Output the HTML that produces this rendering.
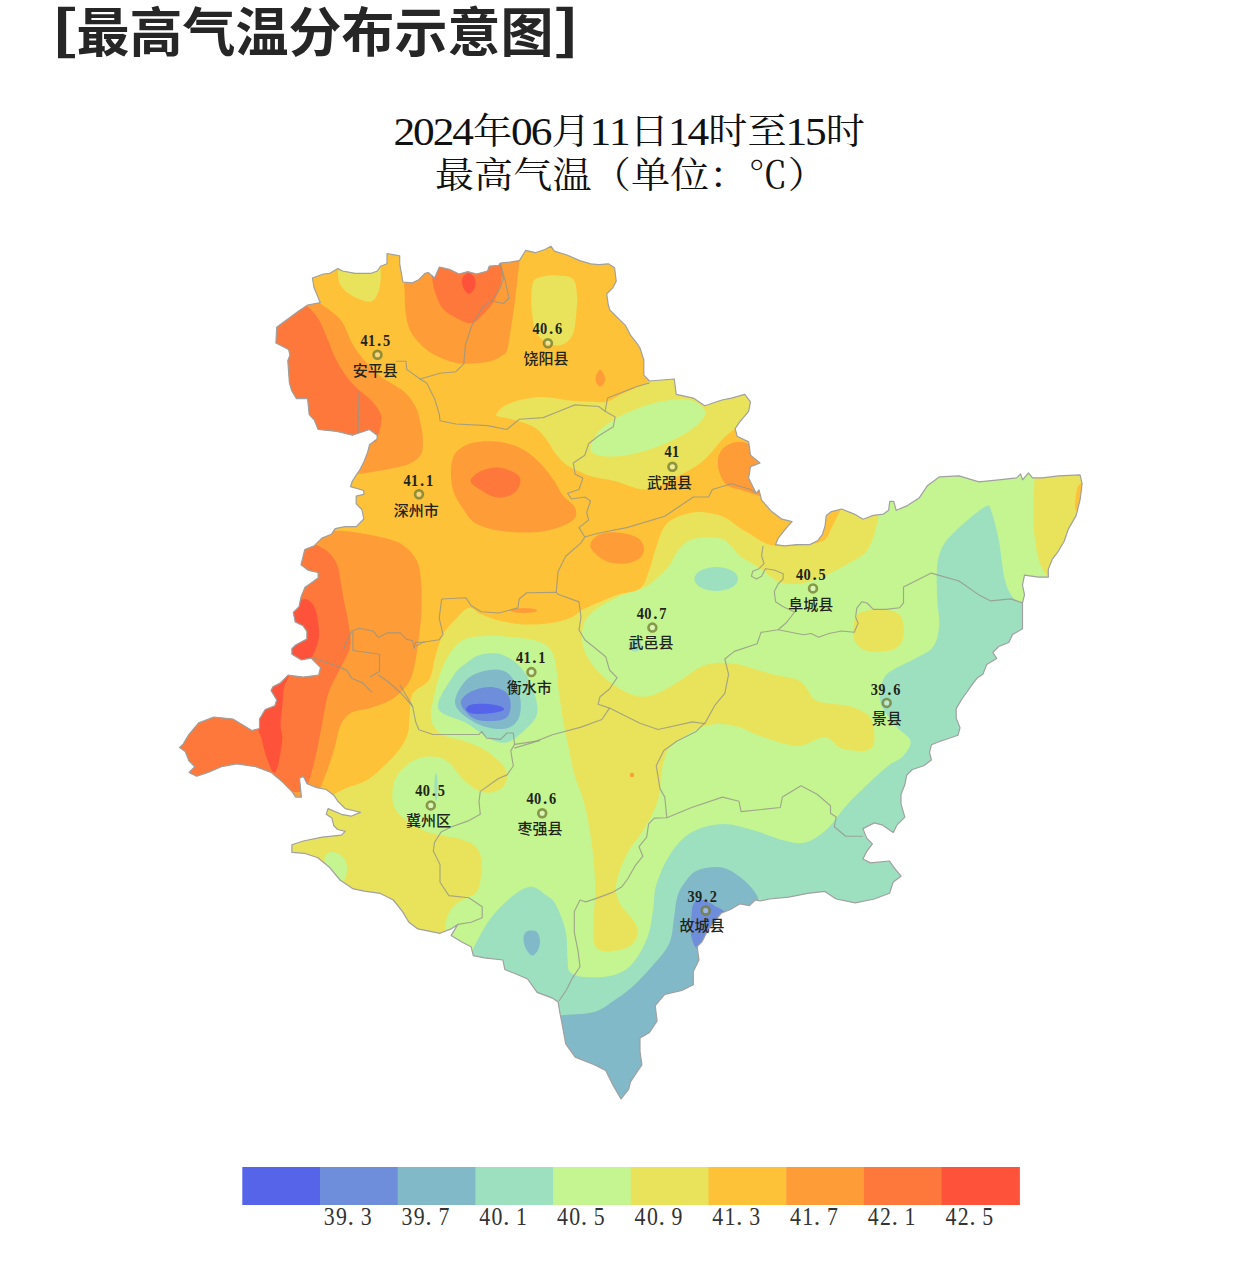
<!DOCTYPE html>
<html lang="zh"><head><meta charset="utf-8"><title>最高气温分布示意图</title>
<style>
html,body{margin:0;padding:0;background:#fff;}
body{width:1260px;height:1279px;overflow:hidden;position:relative;}
svg{position:absolute;left:0;top:0;display:block}
.t{font-family:"Noto Sans CJK SC","Liberation Sans",sans-serif;font-weight:bold;fill:#262626}
.s{font-family:"Liberation Serif","Noto Serif CJK SC",serif;fill:#111}
.v{font-family:"Liberation Serif","Noto Serif CJK SC",serif;fill:#1f251a;font-size:17px;font-weight:bold}
.n{font-family:"Liberation Sans","Noto Sans CJK SC",sans-serif;fill:#1f251a;font-size:15px;font-weight:500}
.lg{font-family:"Liberation Serif","Noto Serif CJK SC",serif;fill:#333}
</style></head><body>
<svg width="1260" height="1279" viewBox="0 0 1260 1279">
<text class="t" font-size="53"><tspan x="50.6" y="49" textLength="28.05" lengthAdjust="spacingAndGlyphs">[</tspan><tspan x="76.5" y="51.5">最高气温分布示意图</tspan><tspan x="553" y="49" textLength="27.05" lengthAdjust="spacingAndGlyphs">]</tspan></text>
<text class="s" y="145"><tspan x="393.5" y="145" font-size="39.4" textLength="21.7" lengthAdjust="spacingAndGlyphs">2</tspan><tspan x="413.1" y="145" font-size="39.4" textLength="21.7" lengthAdjust="spacingAndGlyphs">0</tspan><tspan x="432.7" y="145" font-size="39.4" textLength="21.7" lengthAdjust="spacingAndGlyphs">2</tspan><tspan x="452.3" y="145" font-size="39.4" textLength="21.7" lengthAdjust="spacingAndGlyphs">4</tspan><tspan x="473" y="143.5" font-size="36.5" textLength="39.1" lengthAdjust="spacingAndGlyphs">年</tspan><tspan x="511.1" y="145" font-size="39.4" textLength="21.7" lengthAdjust="spacingAndGlyphs">0</tspan><tspan x="530.7" y="145" font-size="39.4" textLength="21.7" lengthAdjust="spacingAndGlyphs">6</tspan><tspan x="551.4" y="143.5" font-size="36.5" textLength="39.1" lengthAdjust="spacingAndGlyphs">月</tspan><tspan x="589.5" y="145" font-size="39.4" textLength="21.7" lengthAdjust="spacingAndGlyphs">1</tspan><tspan x="609.1" y="145" font-size="39.4" textLength="21.7" lengthAdjust="spacingAndGlyphs">1</tspan><tspan x="629.8" y="143.5" font-size="36.5" textLength="39.1" lengthAdjust="spacingAndGlyphs">日</tspan><tspan x="667.9" y="145" font-size="39.4" textLength="21.7" lengthAdjust="spacingAndGlyphs">1</tspan><tspan x="687.5" y="145" font-size="39.4" textLength="21.7" lengthAdjust="spacingAndGlyphs">4</tspan><tspan x="708.2" y="143.5" font-size="36.5" textLength="39.1" lengthAdjust="spacingAndGlyphs">时</tspan><tspan x="747.4" y="143.5" font-size="36.5" textLength="39.1" lengthAdjust="spacingAndGlyphs">至</tspan><tspan x="785.5" y="145" font-size="39.4" textLength="21.7" lengthAdjust="spacingAndGlyphs">1</tspan><tspan x="805.1" y="145" font-size="39.4" textLength="21.7" lengthAdjust="spacingAndGlyphs">5</tspan><tspan x="825.8" y="143.5" font-size="36.5" textLength="39.1" lengthAdjust="spacingAndGlyphs">时</tspan></text>
<text class="s" y="189"><tspan x="434.9" y="187.5" font-size="36.5" textLength="39.1" lengthAdjust="spacingAndGlyphs">最</tspan><tspan x="474.1" y="187.5" font-size="36.5" textLength="39.1" lengthAdjust="spacingAndGlyphs">高</tspan><tspan x="513.3" y="187.5" font-size="36.5" textLength="39.1" lengthAdjust="spacingAndGlyphs">气</tspan><tspan x="552.5" y="187.5" font-size="36.5" textLength="39.1" lengthAdjust="spacingAndGlyphs">温</tspan><tspan x="591.7" y="187.5" font-size="36.5" textLength="39.1" lengthAdjust="spacingAndGlyphs">（</tspan><tspan x="630.9" y="187.5" font-size="36.5" textLength="39.1" lengthAdjust="spacingAndGlyphs">单</tspan><tspan x="670.1" y="187.5" font-size="36.5" textLength="39.1" lengthAdjust="spacingAndGlyphs">位</tspan><tspan x="709.3" y="187.5" font-size="36.5" textLength="39.1" lengthAdjust="spacingAndGlyphs">：</tspan><tspan x="748.5" y="187.5" font-size="36.5" textLength="39.1" lengthAdjust="spacingAndGlyphs">℃</tspan><tspan x="787.7" y="187.5" font-size="36.5" textLength="39.1" lengthAdjust="spacingAndGlyphs">）</tspan></text>
<defs><clipPath id="cl"><path d="M276.7,327.3L298,311.4L307.6,305L320.3,302.7L314,287.6L312.4,278L323.5,274L329.8,273.3L337.8,268.6L342.5,271L355.2,273.3L371.1,273.3L377.5,271L380.6,266.2L387,263.8L387,253.5L399.7,255.9L399.7,263.8L402,276.5L402.9,282L412.4,282.9L418.7,279.7L425,273.3L428.3,272.5L434.6,278L439.4,267L449.5,269.4L459,274L467.8,271.7L476.5,274L487.6,271L489.2,266.2L498.7,265.4L500.3,263L509.8,262.2L519.4,260.6L525.7,250.3L535.2,252.7L544.8,249.5L551.1,246.3L554.3,251.1L567,255L579.7,260.6L590.8,263.8L598.7,264.6L608.3,263.8L614.6,267.8L616.2,281.3L613,287.6L606.7,294L608.3,305L609.8,309.8L617.8,317.8L625.7,325.7L630.5,335.2L636.8,343.2L640,348L643.8,360L643.8,375.2L649.5,381L674.3,379L676.2,394.3L693.3,398.1L704.8,405.7L721.9,400L731.4,398.1L744.8,394.3L750.5,401.9L748.6,411.4L739,422.9L735.2,428.6L737.1,436.2L748.6,441.9L750.5,455.2L760,462.9L750.5,466.7L748.6,478.1L752.4,485.7L756.2,493.3L759,490L761.6,500.2L771.7,511.6L781.9,519.2L792.1,521.7L788.3,525.6L783.2,531.9L778.1,538.3L775.6,544.6L784.4,545.9L797.1,544.6L809.8,544.6L817.5,540.8L822.5,534.4L825.1,525.6L826.3,515.4L831.4,511.6L841.6,509L854.3,514.1L863.2,519.2L873.3,515.4L883.5,514.1L888.6,510.3L889.8,501.4L893.7,501.4L896.2,510.3L907.5,505.6L919.4,497.7L927.3,485.8L939.2,476.9L959,475.9L978.9,481.8L998.7,479.8L1016.6,477.9L1020.6,473.9L1022.5,479.8L1028.5,472.9L1032.5,477.9L1042.4,477.9L1058.3,475.9L1080.1,474.9L1082.1,483.8L1080.1,499.7L1076.1,515.6L1068.2,529.4L1064.2,541.3L1058.3,551.3L1052.3,559.2L1048.3,569.1L1048.3,577.1L1038.4,577.1L1024.5,575.1L1022.5,585L1024.5,594.9L1022.5,602.9L1022.5,618.7L1022.5,628.7L1012.6,634.6L1008.7,642.5L998.7,646.5L992.8,652.5L996.7,658.4L986.8,664.4L982.9,674.3L976.9,678.3L971,686.2L967,692L961.9,699L956.2,708.6L956.2,718.1L960,727.6L958.1,735.2L941,741L931.4,744.8L929.5,752.4L931.4,760L923.8,765.7L912.4,769.5L906.7,775.2L904.8,784.8L901,794.3L901,803.8L904.8,817.1L897.1,824.8L893.3,832.4L881.9,824.8L874.3,822.9L862.9,828.6L866.7,838.1L872.4,843.8L866.7,851.4L862.9,859L870.5,862.9L889.5,861L893.3,866.7L901,876.2L893.3,881.9L889.5,893.3L874.3,899L855.2,902.9L836.2,899L824.8,891.4L807.6,893.3L788.6,897.1L769.5,899L760,901L755.2,900L749.5,905.7L740,903.8L730.5,909.5L721,913.3L715.2,921L707.6,930.5L701.9,941.9L697.1,946.7L699,960L693.3,971.4L693.3,984.8L681.9,990.5L664.8,994.3L655.2,1005.7L657.1,1021L649.5,1032.4L640,1038.1L640,1051.4L641.9,1064.8L638.1,1070.5L630.5,1081.9L628.6,1089.5L621,1099L613.3,1085.7L605.7,1070.5L594.3,1064.8L575.2,1057.1L565.7,1043.8L561.9,1022.9L560,1013.3L558.1,1001.9L552.4,998.1L537.1,992.4L527.6,979L514.3,973.3L504.8,969.5L502.9,960L484.4,957.8L473.3,955.6L471.1,946.7L462.2,942.2L451.1,935.6L457.8,924.4L451.1,928.9L440,933.3L417.8,928.9L408.9,922.2L402.2,911.1L393.3,900L380,893.3L364.4,891.1L353.3,888.9L340,880L328.9,866.7L317.8,857.8L304.4,853.3L291.9,852.4L291.9,844.8L303.3,841L322.4,837.1L341.4,835.2L345.2,831.4L337.6,829.5L333.8,825.7L331.9,818.1L326.2,814.3L328.1,808.6L341.4,814.3L351,816.2L360.5,812.4L352.9,810.5L345.2,808.6L337.6,801L333.8,795.2L326.2,789.5L316.7,787.6L307.1,783.8L303.3,776.2L299.5,778.1L301.4,797.1L295.7,797.1L291.9,791.4L282.4,781.9L271,772.4L255.7,766.7L236.7,763.8L221.4,766.7L208.1,772.4L196.7,776.2L189,772.4L194.8,766.7L189,761L185.2,751.4L179.5,747.6L183.3,743.8L189,734.3L198.6,722.9L213.8,717.1L232.9,719L242.4,724.8L251.9,730.5L259.5,728.6L259.5,719L265.2,709.5L274.8,705.7L276.7,700L271,690.5L272.9,686.7L280.5,682.9L288.1,675.2L303.3,677.1L318.6,675.2L320.5,667.6L311,658.1L301.4,660L291.9,654.3L291.9,648.6L296,644.8L306.9,639L306.9,631.4L302.9,625.7L295.2,621.9L293.3,612.4L299,606.7L301,597.1L304.8,587.6L318.1,578.1L318.1,572.4L308.6,570.5L301,564.8L304.8,549.5L314.3,545.7L321.9,538.1L331.4,534.3L335.2,528.6L344.8,526.7L356.2,526.7L363.8,519L361.9,509.5L356.2,503.8L356.2,496.2L363.8,494.3L363.8,490.5L350.5,486.7L352.4,481L356.2,475.2L360,469.5L363.8,461.9L367.6,452.4L369.5,444.8L377.1,439L377.1,435.2L369.5,429.5L352.4,435.2L337.1,431.4L318.1,429.5L314.3,420L309.2,414.6L307.6,398.7L296.5,398.7L291.7,390.8L289.4,382.9L287.8,360.6L290,355L288.6,349.5L275.9,343Z"/></clipPath></defs>
<g clip-path="url(#cl)">
<path d="M276.7,327.3L298,311.4L307.6,305L320.3,302.7L314,287.6L312.4,278L323.5,274L329.8,273.3L337.8,268.6L342.5,271L355.2,273.3L371.1,273.3L377.5,271L380.6,266.2L387,263.8L387,253.5L399.7,255.9L399.7,263.8L402,276.5L402.9,282L412.4,282.9L418.7,279.7L425,273.3L428.3,272.5L434.6,278L439.4,267L449.5,269.4L459,274L467.8,271.7L476.5,274L487.6,271L489.2,266.2L498.7,265.4L500.3,263L509.8,262.2L519.4,260.6L525.7,250.3L535.2,252.7L544.8,249.5L551.1,246.3L554.3,251.1L567,255L579.7,260.6L590.8,263.8L598.7,264.6L608.3,263.8L614.6,267.8L616.2,281.3L613,287.6L606.7,294L608.3,305L609.8,309.8L617.8,317.8L625.7,325.7L630.5,335.2L636.8,343.2L640,348L643.8,360L643.8,375.2L649.5,381L674.3,379L676.2,394.3L693.3,398.1L704.8,405.7L721.9,400L731.4,398.1L744.8,394.3L750.5,401.9L748.6,411.4L739,422.9L735.2,428.6L737.1,436.2L748.6,441.9L750.5,455.2L760,462.9L750.5,466.7L748.6,478.1L752.4,485.7L756.2,493.3L759,490L761.6,500.2L771.7,511.6L781.9,519.2L792.1,521.7L788.3,525.6L783.2,531.9L778.1,538.3L775.6,544.6L784.4,545.9L797.1,544.6L809.8,544.6L817.5,540.8L822.5,534.4L825.1,525.6L826.3,515.4L831.4,511.6L841.6,509L854.3,514.1L863.2,519.2L873.3,515.4L883.5,514.1L888.6,510.3L889.8,501.4L893.7,501.4L896.2,510.3L907.5,505.6L919.4,497.7L927.3,485.8L939.2,476.9L959,475.9L978.9,481.8L998.7,479.8L1016.6,477.9L1020.6,473.9L1022.5,479.8L1028.5,472.9L1032.5,477.9L1042.4,477.9L1058.3,475.9L1080.1,474.9L1082.1,483.8L1080.1,499.7L1076.1,515.6L1068.2,529.4L1064.2,541.3L1058.3,551.3L1052.3,559.2L1048.3,569.1L1048.3,577.1L1038.4,577.1L1024.5,575.1L1022.5,585L1024.5,594.9L1022.5,602.9L1022.5,618.7L1022.5,628.7L1012.6,634.6L1008.7,642.5L998.7,646.5L992.8,652.5L996.7,658.4L986.8,664.4L982.9,674.3L976.9,678.3L971,686.2L967,692L961.9,699L956.2,708.6L956.2,718.1L960,727.6L958.1,735.2L941,741L931.4,744.8L929.5,752.4L931.4,760L923.8,765.7L912.4,769.5L906.7,775.2L904.8,784.8L901,794.3L901,803.8L904.8,817.1L897.1,824.8L893.3,832.4L881.9,824.8L874.3,822.9L862.9,828.6L866.7,838.1L872.4,843.8L866.7,851.4L862.9,859L870.5,862.9L889.5,861L893.3,866.7L901,876.2L893.3,881.9L889.5,893.3L874.3,899L855.2,902.9L836.2,899L824.8,891.4L807.6,893.3L788.6,897.1L769.5,899L760,901L755.2,900L749.5,905.7L740,903.8L730.5,909.5L721,913.3L715.2,921L707.6,930.5L701.9,941.9L697.1,946.7L699,960L693.3,971.4L693.3,984.8L681.9,990.5L664.8,994.3L655.2,1005.7L657.1,1021L649.5,1032.4L640,1038.1L640,1051.4L641.9,1064.8L638.1,1070.5L630.5,1081.9L628.6,1089.5L621,1099L613.3,1085.7L605.7,1070.5L594.3,1064.8L575.2,1057.1L565.7,1043.8L561.9,1022.9L560,1013.3L558.1,1001.9L552.4,998.1L537.1,992.4L527.6,979L514.3,973.3L504.8,969.5L502.9,960L484.4,957.8L473.3,955.6L471.1,946.7L462.2,942.2L451.1,935.6L457.8,924.4L451.1,928.9L440,933.3L417.8,928.9L408.9,922.2L402.2,911.1L393.3,900L380,893.3L364.4,891.1L353.3,888.9L340,880L328.9,866.7L317.8,857.8L304.4,853.3L291.9,852.4L291.9,844.8L303.3,841L322.4,837.1L341.4,835.2L345.2,831.4L337.6,829.5L333.8,825.7L331.9,818.1L326.2,814.3L328.1,808.6L341.4,814.3L351,816.2L360.5,812.4L352.9,810.5L345.2,808.6L337.6,801L333.8,795.2L326.2,789.5L316.7,787.6L307.1,783.8L303.3,776.2L299.5,778.1L301.4,797.1L295.7,797.1L291.9,791.4L282.4,781.9L271,772.4L255.7,766.7L236.7,763.8L221.4,766.7L208.1,772.4L196.7,776.2L189,772.4L194.8,766.7L189,761L185.2,751.4L179.5,747.6L183.3,743.8L189,734.3L198.6,722.9L213.8,717.1L232.9,719L242.4,724.8L251.9,730.5L259.5,728.6L259.5,719L265.2,709.5L274.8,705.7L276.7,700L271,690.5L272.9,686.7L280.5,682.9L288.1,675.2L303.3,677.1L318.6,675.2L320.5,667.6L311,658.1L301.4,660L291.9,654.3L291.9,648.6L296,644.8L306.9,639L306.9,631.4L302.9,625.7L295.2,621.9L293.3,612.4L299,606.7L301,597.1L304.8,587.6L318.1,578.1L318.1,572.4L308.6,570.5L301,564.8L304.8,549.5L314.3,545.7L321.9,538.1L331.4,534.3L335.2,528.6L344.8,526.7L356.2,526.7L363.8,519L361.9,509.5L356.2,503.8L356.2,496.2L363.8,494.3L363.8,490.5L350.5,486.7L352.4,481L356.2,475.2L360,469.5L363.8,461.9L367.6,452.4L369.5,444.8L377.1,439L377.1,435.2L369.5,429.5L352.4,435.2L337.1,431.4L318.1,429.5L314.3,420L309.2,414.6L307.6,398.7L296.5,398.7L291.7,390.8L289.4,382.9L287.8,360.6L290,355L288.6,349.5L275.9,343Z" fill="#c5f591"/>
<path d="M880,470C879.7,477.4 879.1,504.4 878.4,514.1C877.7,523.8 876.9,523.7 875.9,528.1C874.9,532.5 874,536.6 872.1,540.8C870.2,545 868.4,549.7 864.4,553.5C860.4,557.3 853.8,560.3 847.9,563.7C842,567.1 835.2,570.8 828.9,573.8C822.5,576.8 815.7,579.7 809.8,581.4C803.9,583.1 798.6,584 793.3,584C788,584 782.8,583.3 778.1,581.4C773.5,579.5 769.6,575.5 765.4,572.5C761.2,569.5 756.9,566.5 752.7,563.7C748.5,561 745.1,560.1 740,556C734.9,551.9 729.8,541.8 722,539C714.2,536.2 700.6,537.1 693.3,539C686,540.9 682,546.2 678.1,550.5C674.2,554.8 673.2,560.4 669.7,565C666.2,569.6 661.2,574.2 657,578C652.8,581.8 650.6,584.5 644.3,587.6C637.9,590.7 626.9,592.9 618.9,596.5C610.9,600.1 601.7,605 596,609.2C590.3,613.4 586.9,617.2 584.6,621.9C582.3,626.5 582.1,632.2 582.1,637.1C582.1,642 582.7,646.2 584.6,651.1C586.5,656 589.9,661.6 593.5,666.3C597.1,670.9 600.9,674.8 606.2,679C611.5,683.2 618.9,688.7 625.2,691.7C631.6,694.7 637.9,697 644.3,696.8C650.6,696.6 656.9,693.5 663.3,690.5C669.6,687.5 675.3,683.3 682.4,679C689.5,674.7 697.1,667.3 705.7,664.8C714.4,662.3 723.2,662.2 734.3,663.8C745.4,665.4 761.8,671.6 772.4,674.3C783,677 792.1,677.5 798,680C803.9,682.5 804.4,686 807.6,689.5C810.8,693 809.8,698.1 817.1,701C824.4,703.9 842.5,703.9 851.4,706.7C860.3,709.6 866.7,712.4 870.5,718.1C874.3,723.8 874.9,735.6 874.3,741C873.7,746.4 872.1,749.2 866.7,750.5C861.3,751.8 848.9,750.8 841.9,748.6C834.9,746.4 832.1,737.5 824.8,737.1C817.5,736.7 808.4,746 798.1,746C787.8,746 773.5,740.4 762.9,737C752.3,733.6 743.8,727.6 734.3,725.7C724.8,723.8 715.2,723.2 705.7,725.7C696.2,728.2 683.5,736.9 677.1,741C670.8,745.1 670.1,745.8 667.6,750.5C665.1,755.2 663.5,761.2 661.9,769.5C660.3,777.8 661,790.3 658.1,800C655.2,809.7 650.2,818.2 644.8,827.6C639.4,837 630.5,846.7 625.7,856.2C620.9,865.7 617.2,876.9 616.2,884.8C615.2,892.7 616.8,897.4 620,903.8C623.2,910.1 632.4,917.5 635.2,922.9C638.1,928.3 638.4,932.1 637.1,936.2C635.8,940.3 632.7,945.1 627.6,947.6C622.5,950.1 612.1,951.7 606.7,951.4C601.3,951.1 597.4,950.5 595.2,945.7C593,941 593.3,931.5 593.3,922.9C593.3,914.3 595.2,905.4 595.2,894.3C595.2,883.2 594.6,868.9 593.3,856.2C592,843.5 589.5,828.3 587.6,818.1C585.7,807.9 583.8,801.6 581.9,795.2C580,788.9 577.8,785.6 576,780C574.2,774.4 572.8,767.7 571.4,761.4C570,755.1 569,749.3 567.6,742.4C566.2,735.5 564.4,727.7 563,719.7C561.6,711.7 560.5,703.8 559.2,694.3C557.9,684.8 557,670.1 555.4,662.5C553.8,654.9 552.8,652.2 549.7,648.6C546.6,645 543.4,642.9 537,641C530.6,639.1 520.1,638 511.6,637.1C503.1,636.2 494.2,635.5 486.2,635.9C478.1,636.3 469.6,636.3 463.3,639.7C457,643.1 452.3,649.5 448.1,656.2C443.9,662.9 440.5,672.7 438,680C435.5,687.3 434.5,694.5 433.3,700C432.1,705.5 430.8,708.5 430.8,712.7C430.8,716.9 431.2,721.6 433.3,725.4C435.4,729.2 438.6,733.1 443.5,735.6C448.4,738.1 456.1,738.5 462.5,740.6C468.9,742.7 476.3,745.5 481.6,748.3C486.9,751 490.5,753.9 494.3,757.1C498.1,760.3 502.3,763.7 504.4,767.3C506.5,770.9 507.6,775.1 507,778.7C506.4,782.3 503.8,786.6 500.6,788.9C497.4,791.2 492.1,792.7 487.9,792.7C483.7,792.7 479.4,791.2 475.2,788.9C471,786.6 466.7,782.9 462.5,778.7C458.3,774.5 454,767.1 449.8,763.5C445.6,759.9 442.4,758 437.1,757.1C431.8,756.2 423.8,756.5 418.1,758.4C412.4,760.3 406.9,764.6 402.9,768.6C398.9,772.6 395.7,777 394,782.5C392.3,788 391.9,796.3 392.7,801.6C393.5,806.9 395.8,810.5 399,814.3C402.2,818.1 407.5,821.6 411.7,824.4C415.9,827.1 420.2,829.1 424.4,830.8C428.6,832.5 432.9,833.5 437.1,834.6C441.3,835.7 445.6,836.2 449.8,837.1C454,838 458.3,838.2 462.5,839.7C466.7,841.2 472,842.6 475.2,846C478.4,849.4 480.7,854.3 481.6,860C482.5,865.7 481.3,874.5 480.4,880C479.5,885.5 478.4,890 476,893C473.6,896 469.5,896 466,898C462.5,900 458,902.2 455,905C452,907.8 449.7,910 448,915C446.3,920 445.5,920.8 445,935C444.5,949.2 445,989.2 445,1000L150,1000L150,150L1100,150L1100,470Z" fill="#e9e35c"/>
<path d="M150,150L660,150L660,375L650,381C648.3,381.8 644.6,383.8 640,385.9C635.4,388 628,391.2 622.5,393.8C617,396.4 612,400.4 606.7,401.7C601.4,403 597.4,401.9 590.8,401.7C584.2,401.4 574.9,401 567,400.2C559.1,399.4 551.1,397 543.2,397C535.3,397 526,398.6 519.4,400.2C512.8,401.8 507.2,404.4 503.5,406.5C499.8,408.6 498.2,411.3 497.1,412.9C496,414.5 494.7,414.9 497.1,416C499.5,417.1 506.4,417.9 511.4,419.2C516.4,420.5 522.8,422.1 527.3,424C531.8,425.9 535,427.4 538.4,430.3C541.8,433.2 545,437.4 547.9,441.4C550.8,445.4 552.7,450.1 555.9,454.1C559.1,458.1 563,462.3 567,465.2C571,468.1 575.7,469.8 579.7,471.6C583.7,473.5 585,474.7 590.8,476.3C596.6,477.9 605.5,478.9 614.6,481.1C623.8,483.3 635.8,490 645.7,489.5C655.7,489 664.8,482.9 674.3,478.1C683.8,473.4 695,467.4 702.9,461C710.8,454.6 716.5,445.4 721.9,440C727.3,434.6 730.9,431.9 735.2,428.6C739.6,425.3 745.9,421.4 748,420L800,430L860,480L860,500L841.6,509C841.2,509.6 840.7,509.7 839,512.9C837.3,516.1 833.5,523.9 831.4,528.1C829.3,532.3 828.8,535.8 826.3,538.3C823.8,540.8 821.7,542 816.2,543.3C810.7,544.6 800.1,545.4 793.3,545.9C786.5,546.4 780.2,546.4 775.6,546C771,545.6 769.2,545 765.4,543.3C761.6,541.6 756.9,538.2 752.7,535.7C748.5,533.2 745.1,531.4 740,528.1C734.9,524.9 729.8,518.8 722,516.2C714.2,513.6 702.5,511.1 693.3,512.4C684.1,513.7 673.1,517.4 666.7,523.8C660.4,530.1 658.1,542.9 655.2,550.5C652.3,558.1 652,563.1 649.5,569.5C647,575.9 645.1,584.5 640,588.6C634.9,592.7 625.7,592.1 619,594.3C612.3,596.5 606,599.4 600,601.9C594,604.4 587.9,606.8 582.9,609.5C577.9,612.2 575.5,615.8 570,618.1C564.5,620.4 557.3,622.2 549.7,623.2C542.1,624.2 532.8,624.8 524.3,624.4C515.8,624 506.1,622.3 498.9,620.6C491.7,618.9 486.2,616.4 481.1,614.3C476,612.2 472.8,606.8 468.4,607.9C463.9,609 458.6,616.1 454.4,620.6C450.2,625.1 446.2,628.7 443,634.6C439.8,640.5 437.7,648.6 435.4,656.2C433.1,663.8 432.8,673.7 429,680C425.2,686.3 415.9,687.6 412.6,693.8C409.4,700 410.3,710.8 409.5,717.3C408.7,723.8 409.5,727.7 407.9,732.9C406.3,738.1 403.8,743.4 400.1,748.6C396.5,753.8 391.5,759 386,764.2C380.5,769.4 373.8,776 367.3,779.9C360.8,783.8 352.9,785.1 346.9,787.7C340.9,790.3 336.1,793.1 331.3,795.5C326.5,797.9 320.2,800.9 318,802L150,900Z" fill="#fdc238"/>
<path d="M533.7,281C535.6,277.9 539,277.4 543,276.5C547,275.6 553,275.1 558,275.5C563,275.9 569.8,275.8 573,279C576.2,282.2 576.4,289.8 577,295C577.6,300.2 577.1,303.7 576.5,310C575.9,316.3 575.5,327.2 573.3,333C571,338.8 567.2,342.8 563,344.5C558.8,346.2 552.5,345.6 548,343.5C543.5,341.4 538.7,337.2 536,332C533.3,326.8 532.8,318.2 532,312C531.2,305.8 531.2,300.2 531.5,295C531.8,289.8 531.8,284.1 533.7,281Z" fill="#e9e35c"/>
<path d="M337.8,268.6C338.1,271 337.8,278.9 339.4,282.9C341,286.9 344.1,289.8 347.3,292.4C350.5,295 354.4,297.2 358.4,298.7C362.4,300.2 367.9,302.3 371.1,301.5C374.3,300.7 375.9,297.4 377.5,294C379.1,290.6 380.1,286 380.6,281.3C381.1,276.6 380.6,268.6 380.6,266L380,250L337,250Z" fill="#e9e35c"/>
<path d="M590.5,449.5C589.9,445.6 593.6,437.6 598,432.4C602.4,427.1 609,422.5 617,418C625,413.5 636.2,408.6 645.7,405.5C655.2,402.4 666.4,400.2 674.3,399.5C682.2,398.8 688.2,399.2 693.3,401C698.4,402.8 703.5,407.2 704.8,410.5C706.1,413.8 704.5,417 701,421C697.5,425 691.4,429.9 683.8,434.3C676.2,438.7 664.7,444.1 655.2,447.6C645.7,451.1 635.6,453.8 626.7,455.2C617.8,456.6 607.9,456.9 601.9,456C595.9,455.1 591.1,453.4 590.5,449.5Z" fill="#c5f591"/>
<path d="M325,856C326.2,853.3 329.8,851.7 333,852C336.2,852.3 341.7,855 344,858C346.3,861 347.2,866.2 347,870C346.8,873.8 345.5,879.7 343,881C340.5,882.3 334.8,880.2 332,878C329.2,875.8 327.2,871.7 326,868C324.8,864.3 323.8,858.7 325,856Z" fill="#c5f591"/>
<path d="M853.9,638.6C852.2,633 853.2,621.4 855.9,616.7C858.5,612 863.2,611.1 869.8,610.3C876.4,609.5 890,609.6 895.6,612C901.2,614.4 902.5,619.6 903.5,624.7C904.5,629.8 903.8,638.2 901.5,642.5C899.2,646.8 895.6,649.2 889.6,650.5C883.6,651.8 871.8,652.5 865.8,650.5C859.8,648.5 855.5,644.2 853.9,638.6Z" fill="#e9e35c"/>
<path d="M1034.4,470C1034.4,471.6 1034.6,471.6 1034.4,479.8C1034.2,488.1 1033.2,507.9 1033.5,519.5C1033.8,531.1 1034.9,541 1036.4,549.3C1037.9,557.6 1040.1,564 1042.4,569.1C1044.7,574.2 1048.7,578.2 1050,580L1100,580L1100,470Z" fill="#e9e35c"/>
<path d="M1078,486C1079.2,484.2 1082.2,481.7 1083,484C1083.8,486.3 1083.7,495.3 1083,500C1082.3,504.7 1080.3,510.7 1079,512C1077.7,513.3 1075.5,510.8 1075,508C1074.5,505.2 1075.5,498.7 1076,495C1076.5,491.3 1076.8,487.8 1078,486Z" fill="#fdc238"/>
<path d="M318,300C318.4,300.6 318.1,301.6 320.3,303.5C322.5,305.4 327.7,308.2 331.4,311.4C335.1,314.6 339.1,317.2 342.5,322.5C345.9,327.8 348.7,337.1 352.1,343.2C355.6,349.3 358.4,353.4 363.2,359C367.9,364.6 374,371.2 380.6,376.5C387.2,381.8 397.1,385.8 402.9,390.8C408.7,395.8 412.7,401.4 415.6,406.7C418.5,412 419.1,417.1 420.3,422.5C421.5,427.9 422.8,433.7 422.9,439C423,444.3 423.2,450.2 421,454.3C418.8,458.4 415.2,461.3 409.5,463.8C403.8,466.3 394.3,467.9 386.7,469.5C379.1,471.1 370.8,472.2 363.8,473.3C356.9,474.4 348.1,475.6 345,476L250,476L250,300Z" fill="#fe9c38"/>
<path d="M318,532C320.2,531.8 325,530.4 331.4,530.5C337.8,530.6 347.3,531.1 356.2,532.4C365.1,533.7 376.9,535.9 384.8,538.1C392.7,540.3 398.4,541.9 403.8,545.7C409.2,549.5 414.2,555 417.1,561C420,567 420.3,573.6 421,581.9C421.7,590.1 421.9,600.8 421.5,610.5C421.1,620.2 419.9,630.3 418.6,640C417.3,649.7 415.9,661.2 413.8,668.9C411.8,676.6 410.2,680.8 406.3,686C402.4,691.2 396.7,696.5 390.7,700.1C384.7,703.8 376.9,705.8 370.4,707.9C363.9,710 356.6,709.7 351.6,712.6C346.7,715.5 343.6,719.1 340.7,725.1C337.8,731.1 336.8,740.8 334.4,748.6C332,756.4 329,765.5 326.6,772C324.2,778.5 322.4,783 320.3,787.7C318.2,792.4 315.1,798 314,800L150,800L150,532Z" fill="#fe9c38"/>
<path d="M402,262C402.2,263.7 402.6,267.3 403,272C403.4,276.7 404.3,284.5 404.6,290C404.9,295.5 404.7,300.3 405,305C405.3,309.7 405.7,313.9 406.5,318C407.3,322.1 407.9,325.8 409.8,329.7C411.7,333.6 414.5,337.9 417.8,341.6C421.1,345.3 425.1,348.9 429.7,351.9C434.3,354.9 440.3,357.8 445.6,359.8C450.9,361.8 456.1,363.3 461.4,363.8C466.7,364.3 472.5,363.4 477.3,363C482.1,362.6 486.2,362.4 490,361.4C493.8,360.4 497.2,358.7 500,357C502.8,355.3 505.1,354.7 506.7,351.1C508.3,347.5 508.5,343.1 509.8,335.2C511.1,327.3 513,315.7 514.6,303.5C516.2,291.3 518.3,270.9 519.4,262C520.5,253.1 520.7,252 521,250L521,230L402,230Z" fill="#fe9c38"/>
<path d="M451.1,468.4C451.6,462.1 452.5,456.7 455.9,452.5C459.3,448.3 465.1,444.9 471.7,443C478.3,441.1 488.2,440.9 495.6,441.4C503,441.9 510.1,443.8 516.2,446.2C522.3,448.6 527.3,452 532.1,455.7C536.9,459.4 541.1,464.2 544.8,468.4C548.5,472.6 551.3,476.6 554.3,481.1C557.3,485.6 559.5,491 563,495.5C566.5,500 573.7,503.8 575.2,508C576.7,512.2 577.4,517.1 572,521C566.6,524.9 554.1,529.7 542.9,531.4C531.7,533.1 515.9,532.7 504.8,531.4C493.7,530.1 483.2,527.6 476.2,523.8C469.2,520 466.8,514.2 462.9,508.6C459,503 455,496.7 453,490C451,483.3 450.6,474.6 451.1,468.4Z" fill="#fe9c38"/>
<path d="M590.5,546.7C589.5,542.6 593.6,537.6 598,535.2C602.4,532.8 610.6,532.1 617,532.4C623.4,532.7 631.7,534.7 636.2,537.1C640.7,539.5 643.2,543.2 643.8,546.7C644.4,550.2 643.5,555.1 640,558C636.5,560.9 628.9,563.5 622.9,563.8C616.9,564.1 609.2,562.9 603.8,560C598.4,557.1 591.5,550.8 590.5,546.7Z" fill="#fe9c38"/>
<path d="M720,474.3C718.4,469.9 717.4,463.4 718,459C718.6,454.6 720.6,450.5 723.8,447.6C727,444.8 732.4,442.2 737.1,441.9C741.8,441.6 747.9,442.6 752,446C756.1,449.4 760.7,456 762,462C763.3,468 761,476.8 760,482C759,487.2 759.4,491.8 756.2,493C753,494.2 745.8,490.7 741,489.5C736.2,488.3 731.1,488.2 727.6,485.7C724.1,483.2 721.6,478.8 720,474.3Z" fill="#fe9c38"/>
<path d="M600.3,369.5C601.7,369.5 603.8,373.9 604.5,376C605.2,378.1 605.2,380.2 604.5,382C603.8,383.8 601.7,386.5 600.3,386.5C598.9,386.5 596.7,383.8 596,382C595.3,380.2 595.3,378.1 596,376C596.7,373.9 598.9,369.5 600.3,369.5Z" fill="#fe9c38"/>
<ellipse cx="524" cy="610.5" rx="13" ry="2.6" fill="#fe9c38"/>
<path d="M735,488L758,488L760,496Z" fill="#fe9c38"/>
<ellipse cx="632" cy="775" rx="2.2" ry="2.2" fill="#fe9c38"/>
<path d="M296,305C297.9,305.3 303.8,304.3 307.6,306.7C311.4,309.1 315.3,313.8 318.7,319.4C322.1,324.9 325.3,333.9 327.9,340C330.5,346.1 331.9,350.9 334.3,355.9C336.7,360.9 339.6,366 342.2,370.2C344.8,374.4 347.5,378.1 350.2,381.3C352.9,384.5 355.2,386.6 358.1,389.2C361,391.8 364.4,394.1 367.6,397.1C370.8,400.2 374.9,404.4 377.1,407.5C379.4,410.6 380.4,412.8 381.1,415.4C381.8,418 381.5,420.2 381.1,423.3C380.7,426.4 379.6,430.6 378.7,433.7C377.8,436.8 376.4,440.6 376,442L250,442L250,305Z" fill="#fe783b"/>
<path d="M312,543C314.6,544.4 323.4,547.8 327.6,551.4C331.8,555 334.9,559.4 337.1,564.8C339.3,570.2 339.9,577.9 341,583.8C342.1,589.7 342.6,593.4 343.8,600C345.1,606.6 347.5,615.7 348.5,623.5C349.5,631.3 351.6,639.1 350,646.9C348.4,654.7 342.7,662.6 339.1,670.4C335.5,678.2 331.1,684.7 328.2,693.8C325.3,702.9 324,714.7 321.9,725.1C319.8,735.5 317.7,747.3 315.6,756.4C313.5,765.5 311.2,774 309.4,779.9C307.6,785.8 305.7,790 305,792L150,792L150,543Z" fill="#fe783b"/>
<path d="M431,262C431.1,263.6 430.8,266.9 431.4,271.7C432,276.5 432.8,284.7 434.6,290.8C436.5,296.9 438.9,303.8 442.5,308.3C446.1,312.8 451,315.3 455.9,317.8C460.8,320.3 467.2,323.8 471.7,323.3C476.2,322.8 479.4,317.9 482.9,314.6C486.3,311.3 489.8,307.5 492.4,303.5C495,299.5 497.1,295.3 498.7,290.8C500.3,286.3 501.5,281.3 501.9,276.5C502.3,271.7 501.1,264.4 501,262L501,240L431,240Z" fill="#fe783b"/>
<path d="M470.5,481C470.5,478 475.2,473.6 480,471.4C484.8,469.2 492.7,467 499,467.6C505.3,468.2 514.6,472.1 518,475.2C521.4,478.2 520.6,482.6 519.4,485.9C518.1,489.2 514.5,493.3 510.5,495.2C506.5,497.1 500.3,498.1 495.2,497.1C490.1,496.2 484.1,492.2 480,489.5C475.9,486.8 470.5,484 470.5,481Z" fill="#fe783b"/>
<path d="M292,605C294.1,604 301.1,598.7 304.8,599C308.5,599.3 312.1,602.9 314.3,606.7C316.5,610.5 317.4,616.5 318.1,621.9C318.8,627.3 319.8,633 318.6,639C317.4,645 314.1,654.1 311,658.1C307.9,662.1 301.8,662.2 300,663L270,663L270,605Z" fill="#fe533a"/>
<path d="M291,671C292.6,672.1 285.7,680.9 284.3,686.7C282.9,692.5 283,699.4 282.4,705.7C281.8,712.1 280.5,719.4 280.5,724.8C280.5,730.2 282.7,731.8 282.4,738.1C282.1,744.5 279.9,757.2 278.6,762.9C277.3,768.6 276.1,771.4 274.8,772.4C273.5,773.4 272.6,771.8 271,768.6C269.4,765.4 266.8,758.4 265.2,753.3C263.6,748.2 262.6,742.6 261.4,738.1C260.2,733.6 257.9,732.4 258,726C258.1,719.6 259.2,707.7 262,700C264.8,692.3 270.2,684.8 275,680C279.8,675.2 289.4,669.9 291,671Z" fill="#fe533a"/>
<path d="M468.6,273C470.6,273 473.4,275.7 474.5,278C475.6,280.3 475.9,284.3 475,287C474.1,289.7 471,294 469,294C467,294 464.1,289.7 463,287C461.9,284.3 461.6,280.3 462.5,278C463.4,275.7 466.6,273 468.6,273Z" fill="#fe533a"/>
<path d="M1022.5,602.9C1020.9,601.9 1015.6,600.9 1012.6,596.9C1009.6,592.9 1007,588.6 1004.7,579C1002.4,569.4 1001,550.9 998.7,539.4C996.4,527.9 993,515.6 991,510C989,504.4 989.5,505.3 986.8,506C984.1,506.7 980.2,509.8 974.9,514C969.6,518.2 960.4,526.2 955.1,531.4C949.8,536.6 946.2,539.7 943.2,545.3C940.2,550.9 938.2,556.3 937.2,565.2C936.2,574.1 936.9,589 937.2,598.9C937.5,608.8 939.9,616.8 939.2,624.7C938.6,632.6 937.3,640.9 933.3,646.5C929.3,652.1 921.7,654.8 915.4,658.4C909.1,662 900.9,665 895.6,668.3C890.3,671.6 886.4,673.3 883.7,678.3C881.1,683.3 879.5,692.5 879.7,698.1C879.9,703.7 882.1,707.1 885,712C887.9,716.9 892.9,722.8 897.1,727.6C901.4,732.4 909.5,736.2 910.5,741C911.5,745.8 906.7,752 902.9,756.2C899.1,760.4 893.6,761.4 887.6,766.2C881.6,771 873.9,778.3 867,784.8C860.1,791.3 853.3,797.8 846.4,805.4C839.5,813 832.6,824 825.7,830.2C818.8,836.4 812,840.8 805.1,842.5C798.2,844.2 793,842.5 784.4,840.5C775.8,838.5 763.8,833 753.5,830.2C743.2,827.5 732.8,823.7 722.5,824C712.2,824.3 700.2,827.4 691.6,832.2C683,837 676.9,844.3 671,852.9C665.1,861.5 659.5,874.3 656.5,883.8C653.5,893.3 654.5,901.1 653,910C651.5,918.9 651,928.1 647.6,937.1C644.2,946.1 638.1,957.4 632.4,963.8C626.7,970.1 621.2,973 613.3,975.2C605.4,977.4 592,977.6 584.8,977.1C577.6,976.6 572.9,974.9 570,972C567.1,969.1 568.3,966.8 567.6,960C566.9,953.2 567.6,940.6 565.7,931.4C563.8,922.2 559.2,911 556,905C552.8,899 550.9,898.6 546.7,895.6C542.6,892.6 536.7,886.7 531.1,886.7C525.5,886.7 520,890.4 513.3,895.6C506.6,900.8 497.8,908.9 491.1,917.8C484.4,926.7 476.8,941 473.3,948.9C469.8,956.8 470.6,962.3 470,965L470,1120L1100,1120L1100,603Z" fill="#9de0c0"/>
<ellipse cx="716.2" cy="579" rx="21.9" ry="11.9" fill="#9de0c0"/>
<ellipse cx="635" cy="645.5" rx="6.5" ry="6" fill="#9de0c0"/>
<path d="M438.1,708.1C435.9,700.2 448.5,683.3 453.3,675.7C458.1,668.1 462.7,666 467.1,662.5C471.5,659 474.5,656.4 479.8,654.9C485.1,653.4 493.2,652.6 498.9,653.7C504.6,654.8 509.9,658.2 514.1,661.3C518.3,664.3 521.1,667.4 524.3,672C527.5,676.6 531.2,682 533.3,689C535.4,696 538.7,706.8 537.1,713.8C535.5,720.8 528.9,726.2 523.8,731C518.7,735.8 512.4,741.1 506.7,742.4C501,743.7 496.2,741.8 489.5,738.6C482.8,735.4 475.3,728.4 466.7,723.3C458.1,718.2 440.3,716 438.1,708.1Z" fill="#9de0c0"/>
<ellipse cx="436" cy="787" rx="1.6" ry="14" fill="#9de0c0"/>
<path d="M561.9,1015.2C567.3,1014.7 585.7,1014.4 594.3,1012C602.9,1009.6 606.9,1005.2 613.3,1001C619.6,996.8 626,992.4 632.4,986.7C638.8,981 645.3,974.1 651.4,967C657.5,959.9 665.2,952.2 669,944C672.8,935.8 672.7,925.7 674,918C675.3,910.3 675.5,903.5 677,898C678.5,892.5 679.7,889.6 683,885C686.3,880.4 690.5,873.4 697,870.5C703.5,867.6 714.5,866.2 722,867.5C729.5,868.8 736.4,874.2 742,878.5C747.6,882.8 752.5,888.6 755.5,893C758.5,897.4 759.2,903 760,905L780,1120L540,1120L540,1015Z" fill="#82b9c9"/>
<path d="M531.4,930.5C533.2,930.5 535.6,930.4 537,932C538.4,933.6 539.8,937 540,940C540.2,943 539.3,947.4 538,950C536.7,952.6 534.1,955.8 532,955.5C529.9,955.2 526.9,950.9 525.5,948C524.1,945.1 523.4,940.7 523.5,938C523.6,935.3 524.7,933.2 526,932C527.3,930.8 529.6,930.5 531.4,930.5Z" fill="#82b9c9"/>
<path d="M455.2,704.3C453.6,697 461,685.2 466.7,679.5C472.4,673.8 482.5,671 489.5,670C496.5,669 503.5,669.3 508.6,673.8C513.7,678.2 518.4,689.1 520,696.7C521.6,704.3 521,714.1 518.1,719.5C515.2,724.9 509.9,728.4 502.9,729C495.9,729.6 484.1,727.4 476.2,723.3C468.2,719.2 456.8,711.6 455.2,704.3Z" fill="#82b9c9"/>
<path d="M691,935C689.9,929.3 691,920.3 691.5,915C692,909.7 692.1,905.5 694,903C695.9,900.5 699.5,899.5 703,900C706.5,900.5 711.2,903.5 715,906C718.8,908.5 726.8,910.2 726,915C725.2,919.8 714.7,929.3 710,935C705.3,940.7 701.2,949 698,949C694.8,949 692.1,940.7 691,935Z" fill="#6e8edb"/>
<path d="M461,704.3C459.7,699.9 463.9,695.8 468.6,692.9C473.4,690 483.1,687.1 489.5,687.1C495.9,687.1 503.2,689.4 506.7,692.9C510.2,696.4 511.1,703.7 510.5,708.1C509.9,712.5 508.6,717.6 502.9,719.5C497.2,721.4 483.2,722 476.2,719.5C469.2,717 462.3,708.7 461,704.3Z" fill="#6e8edb"/>
<path d="M466,709C466,707.5 468.3,705.3 472,704.5C475.7,703.7 483.2,703.7 488,704C492.8,704.3 498.5,705.4 501,706.5C503.5,707.6 505.2,709.3 503,710.5C500.8,711.7 493.2,713 488,713.5C482.8,714 475.7,714.2 472,713.5C468.3,712.8 466,710.5 466,709Z" fill="#5664ea"/>
<g fill="none" stroke="#959588" stroke-width="1.15" stroke-linejoin="round" stroke-opacity="0.8">
<path d="M395.9,361.2L406,361.2L406.7,369.4L420,379L426.7,382.9L434.6,398.7L439.4,414.6L440,420.8L455.9,424L487.6,425.6L506.7,429.5L519.4,419.2L543.2,417.6L559,411.3L574.9,404.9L598.7,406.5L605.1,411.3"/>
<path d="M420,379L440,373.3L455.9,371.7L463.8,363.8L465.4,345L471.7,325.7L482.9,306.7L492.4,300.3L500.3,287.6L503.5,278L500.3,263.8"/>
<path d="M500.3,263.8L505,280L509,298L503.5,303.5L492.4,301"/>
<path d="M359,392L358.4,414.6L358,440"/>
<path d="M605.1,411.3L607.6,398L636.2,386.7L649.5,382.9"/>
<path d="M605.1,411.3L615.2,417L613.3,426.7L598,436.2L588.6,443.8L584.8,455.2L573.3,462.9L575.2,474.3L582.9,478.1L579,489.5L567.6,493.3L571.4,499L584.8,497L590.5,501L586.7,512.4L588.6,520L579,527.6L584.8,537"/>
<path d="M584.8,537L598,533.3L626.7,527.6L664.8,516.2L693.3,497L708.6,497L712.4,489.5L731.4,483.8L750.5,489.5"/>
<path d="M584.8,537L581,542.9L565.7,556.2L558.1,571.4L556.2,592.4L558,594.3L579,601.9"/>
<path d="M556.2,592.4L526.8,592.7L519.2,599L517.9,607.9L498.9,613L481.1,611.7L471,605.4L465.9,597.8L441.7,599L439.2,618.1L443,634.6L439.2,639.7L422.7,642.2L416.3,646"/>
<path d="M579,601.9L581,617L579,630L585,640L595,648L605.7,656.7L609.5,670L617.1,677.6L609.5,689L600,696.7L598.1,704.3L609.5,708.1L601.9,719.5L581,727.1L552.4,734.8L533.3,742.4L514.3,748.1"/>
<path d="M609.5,708.1L640,723.3L658.1,729.5L692.4,721.9L705.7,723.8"/>
<path d="M400,685.2L412.6,706.3L415.7,722L418.9,729.8L432.9,734.5L479,734.3L481.6,731.7L486.7,738.1L500.6,739.4L507,733L513.3,733L514.6,744.4L510.8,750.8L513.3,766L507,774.9L498.1,778.7L480.3,791.4L479,801.6L480.3,814.3L468.9,820.6L451.1,827L441,832.1L434.6,842.2L433.3,851L440,864.4L440,882.2L448.9,895.6L468.9,897.8L482.2,906.7L482.2,917.8L471.1,922.2L457.8,924.4"/>
<path d="M514.6,744.4L540,740.6"/>
<path d="M312.5,657.9L336,665.7L346.9,670.4L351.6,678.2L362.6,682.9L371.9,692.3"/>
<path d="M343,650L351.6,631.3L359.4,628.2L373.5,631.3L378.2,637.5L387.6,632.8L400.1,632.8L406.3,639.1L412.6,640.7L414.2,648.5L415.7,642.2L425.1,642.2"/>
<path d="M352.9,631.4L352.9,650.5L379.5,654.3L379.5,671.4L370,677"/>
<path d="M378.2,675L387.6,681.3L401.7,693.8L412.6,706.3"/>
<path d="M750.5,489.5L756,493"/>
<path d="M763,545.9L761.6,556L764.1,563.7L759,568.7L752.7,571.3L751.4,576.3L756.5,578.9L761.6,576.3L765.4,568.7L774.3,570L783.2,573.8L783.2,578.9L778.1,584L774.3,591.6L775.6,601.7L783.2,606.8L794.6,611.9L790.8,617L785.7,623.3L778.1,629.7L761,632.4L757.1,643.8L734.3,651.4L724.8,659L728.6,674.3L724.8,693.3L715.2,704.8L705.7,721.9L696.2,731.4L677.1,741L663.8,750.5L656.2,765.7L660,788.6L664.8,797.1L666.8,817.8L654.3,818.1L648.6,823.8L646.7,837.1L639,846.7L642.9,856.2L635.2,865.7L627.6,879L621.9,886.7L612.4,892.4L597.1,898.1L585.7,901.9L580,900L574.3,911.4L574.3,932.4L578.1,951.4L580,966.7L572.4,978.1L566.7,989.5L559,1001"/>
<path d="M778.1,629.7L790.8,632.2L803.5,634.8L811.1,633.5L818.7,637.3L828.9,633.5L841.6,631L854.3,632.2L858.1,623.3L855.6,617L856.8,608.1L861.9,601.7L867,603L873.3,609.4L886,609.4L899.5,607.8L903.5,602.9L903.5,587L919.4,579L931.3,573.1L959,581L978.9,594.9L990.8,600.9L1010.6,598.9L1022.5,602.9"/>
<path d="M666.8,817.8L691.6,807.5L722.5,797.1L739,801.3L741.1,811.6L780.3,807.5L782.4,797.1L801,785.8L817.1,794.3L830.5,805.7L830.5,813.3L836.2,817.1L834.3,826.7L845.7,836.2L862.9,836.2"/>
</g>
</g>
<path d="M276.7,327.3L298,311.4L307.6,305L320.3,302.7L314,287.6L312.4,278L323.5,274L329.8,273.3L337.8,268.6L342.5,271L355.2,273.3L371.1,273.3L377.5,271L380.6,266.2L387,263.8L387,253.5L399.7,255.9L399.7,263.8L402,276.5L402.9,282L412.4,282.9L418.7,279.7L425,273.3L428.3,272.5L434.6,278L439.4,267L449.5,269.4L459,274L467.8,271.7L476.5,274L487.6,271L489.2,266.2L498.7,265.4L500.3,263L509.8,262.2L519.4,260.6L525.7,250.3L535.2,252.7L544.8,249.5L551.1,246.3L554.3,251.1L567,255L579.7,260.6L590.8,263.8L598.7,264.6L608.3,263.8L614.6,267.8L616.2,281.3L613,287.6L606.7,294L608.3,305L609.8,309.8L617.8,317.8L625.7,325.7L630.5,335.2L636.8,343.2L640,348L643.8,360L643.8,375.2L649.5,381L674.3,379L676.2,394.3L693.3,398.1L704.8,405.7L721.9,400L731.4,398.1L744.8,394.3L750.5,401.9L748.6,411.4L739,422.9L735.2,428.6L737.1,436.2L748.6,441.9L750.5,455.2L760,462.9L750.5,466.7L748.6,478.1L752.4,485.7L756.2,493.3L759,490L761.6,500.2L771.7,511.6L781.9,519.2L792.1,521.7L788.3,525.6L783.2,531.9L778.1,538.3L775.6,544.6L784.4,545.9L797.1,544.6L809.8,544.6L817.5,540.8L822.5,534.4L825.1,525.6L826.3,515.4L831.4,511.6L841.6,509L854.3,514.1L863.2,519.2L873.3,515.4L883.5,514.1L888.6,510.3L889.8,501.4L893.7,501.4L896.2,510.3L907.5,505.6L919.4,497.7L927.3,485.8L939.2,476.9L959,475.9L978.9,481.8L998.7,479.8L1016.6,477.9L1020.6,473.9L1022.5,479.8L1028.5,472.9L1032.5,477.9L1042.4,477.9L1058.3,475.9L1080.1,474.9L1082.1,483.8L1080.1,499.7L1076.1,515.6L1068.2,529.4L1064.2,541.3L1058.3,551.3L1052.3,559.2L1048.3,569.1L1048.3,577.1L1038.4,577.1L1024.5,575.1L1022.5,585L1024.5,594.9L1022.5,602.9L1022.5,618.7L1022.5,628.7L1012.6,634.6L1008.7,642.5L998.7,646.5L992.8,652.5L996.7,658.4L986.8,664.4L982.9,674.3L976.9,678.3L971,686.2L967,692L961.9,699L956.2,708.6L956.2,718.1L960,727.6L958.1,735.2L941,741L931.4,744.8L929.5,752.4L931.4,760L923.8,765.7L912.4,769.5L906.7,775.2L904.8,784.8L901,794.3L901,803.8L904.8,817.1L897.1,824.8L893.3,832.4L881.9,824.8L874.3,822.9L862.9,828.6L866.7,838.1L872.4,843.8L866.7,851.4L862.9,859L870.5,862.9L889.5,861L893.3,866.7L901,876.2L893.3,881.9L889.5,893.3L874.3,899L855.2,902.9L836.2,899L824.8,891.4L807.6,893.3L788.6,897.1L769.5,899L760,901L755.2,900L749.5,905.7L740,903.8L730.5,909.5L721,913.3L715.2,921L707.6,930.5L701.9,941.9L697.1,946.7L699,960L693.3,971.4L693.3,984.8L681.9,990.5L664.8,994.3L655.2,1005.7L657.1,1021L649.5,1032.4L640,1038.1L640,1051.4L641.9,1064.8L638.1,1070.5L630.5,1081.9L628.6,1089.5L621,1099L613.3,1085.7L605.7,1070.5L594.3,1064.8L575.2,1057.1L565.7,1043.8L561.9,1022.9L560,1013.3L558.1,1001.9L552.4,998.1L537.1,992.4L527.6,979L514.3,973.3L504.8,969.5L502.9,960L484.4,957.8L473.3,955.6L471.1,946.7L462.2,942.2L451.1,935.6L457.8,924.4L451.1,928.9L440,933.3L417.8,928.9L408.9,922.2L402.2,911.1L393.3,900L380,893.3L364.4,891.1L353.3,888.9L340,880L328.9,866.7L317.8,857.8L304.4,853.3L291.9,852.4L291.9,844.8L303.3,841L322.4,837.1L341.4,835.2L345.2,831.4L337.6,829.5L333.8,825.7L331.9,818.1L326.2,814.3L328.1,808.6L341.4,814.3L351,816.2L360.5,812.4L352.9,810.5L345.2,808.6L337.6,801L333.8,795.2L326.2,789.5L316.7,787.6L307.1,783.8L303.3,776.2L299.5,778.1L301.4,797.1L295.7,797.1L291.9,791.4L282.4,781.9L271,772.4L255.7,766.7L236.7,763.8L221.4,766.7L208.1,772.4L196.7,776.2L189,772.4L194.8,766.7L189,761L185.2,751.4L179.5,747.6L183.3,743.8L189,734.3L198.6,722.9L213.8,717.1L232.9,719L242.4,724.8L251.9,730.5L259.5,728.6L259.5,719L265.2,709.5L274.8,705.7L276.7,700L271,690.5L272.9,686.7L280.5,682.9L288.1,675.2L303.3,677.1L318.6,675.2L320.5,667.6L311,658.1L301.4,660L291.9,654.3L291.9,648.6L296,644.8L306.9,639L306.9,631.4L302.9,625.7L295.2,621.9L293.3,612.4L299,606.7L301,597.1L304.8,587.6L318.1,578.1L318.1,572.4L308.6,570.5L301,564.8L304.8,549.5L314.3,545.7L321.9,538.1L331.4,534.3L335.2,528.6L344.8,526.7L356.2,526.7L363.8,519L361.9,509.5L356.2,503.8L356.2,496.2L363.8,494.3L363.8,490.5L350.5,486.7L352.4,481L356.2,475.2L360,469.5L363.8,461.9L367.6,452.4L369.5,444.8L377.1,439L377.1,435.2L369.5,429.5L352.4,435.2L337.1,431.4L318.1,429.5L314.3,420L309.2,414.6L307.6,398.7L296.5,398.7L291.7,390.8L289.4,382.9L287.8,360.6L290,355L288.6,349.5L275.9,343Z" fill="none" stroke="#a0a0a0" stroke-width="1.2" stroke-linejoin="round"/>
<circle cx="377.5" cy="354.8" r="3.9" fill="#fff" fill-opacity="0.35" stroke="#6f7a2c" stroke-width="2.7" stroke-opacity="0.75"/>
<circle cx="547.9" cy="343.2" r="3.9" fill="#fff" fill-opacity="0.35" stroke="#6f7a2c" stroke-width="2.7" stroke-opacity="0.75"/>
<circle cx="672.4" cy="466.7" r="3.9" fill="#fff" fill-opacity="0.35" stroke="#6f7a2c" stroke-width="2.7" stroke-opacity="0.75"/>
<circle cx="419" cy="494.3" r="3.9" fill="#fff" fill-opacity="0.35" stroke="#6f7a2c" stroke-width="2.7" stroke-opacity="0.75"/>
<circle cx="813" cy="588.4" r="3.9" fill="#fff" fill-opacity="0.35" stroke="#6f7a2c" stroke-width="2.7" stroke-opacity="0.75"/>
<circle cx="652.4" cy="627.6" r="3.9" fill="#fff" fill-opacity="0.35" stroke="#6f7a2c" stroke-width="2.7" stroke-opacity="0.75"/>
<circle cx="531.4" cy="672.1" r="3.9" fill="#fff" fill-opacity="0.35" stroke="#6f7a2c" stroke-width="2.7" stroke-opacity="0.75"/>
<circle cx="886.7" cy="702.9" r="3.9" fill="#fff" fill-opacity="0.35" stroke="#6f7a2c" stroke-width="2.7" stroke-opacity="0.75"/>
<circle cx="430.8" cy="805.4" r="3.9" fill="#fff" fill-opacity="0.35" stroke="#6f7a2c" stroke-width="2.7" stroke-opacity="0.75"/>
<circle cx="542.2" cy="813.3" r="3.9" fill="#fff" fill-opacity="0.35" stroke="#6f7a2c" stroke-width="2.7" stroke-opacity="0.75"/>
<circle cx="705.7" cy="910.5" r="3.9" fill="#fff" fill-opacity="0.35" stroke="#6f7a2c" stroke-width="2.7" stroke-opacity="0.75"/>
<text class="v" y="346"><tspan x="360.6" textLength="7.2" lengthAdjust="spacingAndGlyphs">4</tspan><tspan x="368.1" textLength="7.2" lengthAdjust="spacingAndGlyphs">1</tspan><tspan x="377">.</tspan><tspan x="383" textLength="7.2" lengthAdjust="spacingAndGlyphs">5</tspan></text>
<text class="n" x="375.3" y="376.4" text-anchor="middle">安平县</text>
<text class="v" y="333.7"><tspan x="532.6" textLength="7.2" lengthAdjust="spacingAndGlyphs">4</tspan><tspan x="540.1" textLength="7.2" lengthAdjust="spacingAndGlyphs">0</tspan><tspan x="549">.</tspan><tspan x="555" textLength="7.2" lengthAdjust="spacingAndGlyphs">6</tspan></text>
<text class="n" x="545.9" y="364.1" text-anchor="middle">饶阳县</text>
<text class="v" y="457.1"><tspan x="664.6" textLength="7.2" lengthAdjust="spacingAndGlyphs">4</tspan><tspan x="672.1" textLength="7.2" lengthAdjust="spacingAndGlyphs">1</tspan></text>
<text class="n" x="669.5" y="488.2" text-anchor="middle">武强县</text>
<text class="v" y="485.7"><tspan x="403.6" textLength="7.2" lengthAdjust="spacingAndGlyphs">4</tspan><tspan x="411.1" textLength="7.2" lengthAdjust="spacingAndGlyphs">1</tspan><tspan x="420">.</tspan><tspan x="426" textLength="7.2" lengthAdjust="spacingAndGlyphs">1</tspan></text>
<text class="n" x="416.2" y="515.8" text-anchor="middle">深州市</text>
<text class="v" y="579.5"><tspan x="796.1" textLength="7.2" lengthAdjust="spacingAndGlyphs">4</tspan><tspan x="803.6" textLength="7.2" lengthAdjust="spacingAndGlyphs">0</tspan><tspan x="812.5">.</tspan><tspan x="818.5" textLength="7.2" lengthAdjust="spacingAndGlyphs">5</tspan></text>
<text class="n" x="810.8" y="610" text-anchor="middle">阜城县</text>
<text class="v" y="619"><tspan x="636.8" textLength="7.2" lengthAdjust="spacingAndGlyphs">4</tspan><tspan x="644.3" textLength="7.2" lengthAdjust="spacingAndGlyphs">0</tspan><tspan x="653.2">.</tspan><tspan x="659.2" textLength="7.2" lengthAdjust="spacingAndGlyphs">7</tspan></text>
<text class="n" x="651" y="648.2" text-anchor="middle">武邑县</text>
<text class="v" y="662.6"><tspan x="515.9" textLength="7.2" lengthAdjust="spacingAndGlyphs">4</tspan><tspan x="523.4" textLength="7.2" lengthAdjust="spacingAndGlyphs">1</tspan><tspan x="532.3">.</tspan><tspan x="538.3" textLength="7.2" lengthAdjust="spacingAndGlyphs">1</tspan></text>
<text class="n" x="529.3" y="693.2" text-anchor="middle">衡水市</text>
<text class="v" y="694.5"><tspan x="870.8" textLength="7.2" lengthAdjust="spacingAndGlyphs">3</tspan><tspan x="878.3" textLength="7.2" lengthAdjust="spacingAndGlyphs">9</tspan><tspan x="887.2">.</tspan><tspan x="893.2" textLength="7.2" lengthAdjust="spacingAndGlyphs">6</tspan></text>
<text class="n" x="886.7" y="724.4" text-anchor="middle">景县</text>
<text class="v" y="795.9"><tspan x="415.3" textLength="7.2" lengthAdjust="spacingAndGlyphs">4</tspan><tspan x="422.8" textLength="7.2" lengthAdjust="spacingAndGlyphs">0</tspan><tspan x="431.7">.</tspan><tspan x="437.7" textLength="7.2" lengthAdjust="spacingAndGlyphs">5</tspan></text>
<text class="n" x="428.6" y="826.3" text-anchor="middle">冀州区</text>
<text class="v" y="804.4"><tspan x="526.6" textLength="7.2" lengthAdjust="spacingAndGlyphs">4</tspan><tspan x="534.1" textLength="7.2" lengthAdjust="spacingAndGlyphs">0</tspan><tspan x="543">.</tspan><tspan x="549" textLength="7.2" lengthAdjust="spacingAndGlyphs">6</tspan></text>
<text class="n" x="539.9" y="834.3" text-anchor="middle">枣强县</text>
<text class="v" y="901.9"><tspan x="687.4" textLength="7.2" lengthAdjust="spacingAndGlyphs">3</tspan><tspan x="694.9" textLength="7.2" lengthAdjust="spacingAndGlyphs">9</tspan><tspan x="703.8">.</tspan><tspan x="709.8" textLength="7.2" lengthAdjust="spacingAndGlyphs">2</tspan></text>
<text class="n" x="701.9" y="931.1" text-anchor="middle">故城县</text>
<rect x="242.3" y="1167" width="78.3" height="38" fill="#5664ea"/>
<rect x="320" y="1167" width="78.3" height="38" fill="#6e8edb"/>
<rect x="397.7" y="1167" width="78.3" height="38" fill="#82b9c9"/>
<rect x="475.4" y="1167" width="78.3" height="38" fill="#9de0c0"/>
<rect x="553.1" y="1167" width="78.3" height="38" fill="#c5f591"/>
<rect x="630.8" y="1167" width="78.3" height="38" fill="#e9e35c"/>
<rect x="708.5" y="1167" width="78.3" height="38" fill="#fdc238"/>
<rect x="786.2" y="1167" width="78.3" height="38" fill="#fe9c38"/>
<rect x="863.9" y="1167" width="78.3" height="38" fill="#fe783b"/>
<rect x="941.6" y="1167" width="78.3" height="38" fill="#fe533a"/>
<text class="lg" y="1225" font-size="26"><tspan x="323.8" textLength="10.9" lengthAdjust="spacingAndGlyphs">3</tspan><tspan x="336.1" textLength="10.9" lengthAdjust="spacingAndGlyphs">9</tspan><tspan x="347.6">.</tspan><tspan x="360.7" textLength="10.9" lengthAdjust="spacingAndGlyphs">3</tspan></text>
<text class="lg" y="1225" font-size="26"><tspan x="401.5" textLength="10.9" lengthAdjust="spacingAndGlyphs">3</tspan><tspan x="413.8" textLength="10.9" lengthAdjust="spacingAndGlyphs">9</tspan><tspan x="425.3">.</tspan><tspan x="438.4" textLength="10.9" lengthAdjust="spacingAndGlyphs">7</tspan></text>
<text class="lg" y="1225" font-size="26"><tspan x="479.2" textLength="10.9" lengthAdjust="spacingAndGlyphs">4</tspan><tspan x="491.5" textLength="10.9" lengthAdjust="spacingAndGlyphs">0</tspan><tspan x="503">.</tspan><tspan x="516.1" textLength="10.9" lengthAdjust="spacingAndGlyphs">1</tspan></text>
<text class="lg" y="1225" font-size="26"><tspan x="556.9" textLength="10.9" lengthAdjust="spacingAndGlyphs">4</tspan><tspan x="569.2" textLength="10.9" lengthAdjust="spacingAndGlyphs">0</tspan><tspan x="580.7">.</tspan><tspan x="593.8" textLength="10.9" lengthAdjust="spacingAndGlyphs">5</tspan></text>
<text class="lg" y="1225" font-size="26"><tspan x="634.6" textLength="10.9" lengthAdjust="spacingAndGlyphs">4</tspan><tspan x="646.9" textLength="10.9" lengthAdjust="spacingAndGlyphs">0</tspan><tspan x="658.4">.</tspan><tspan x="671.5" textLength="10.9" lengthAdjust="spacingAndGlyphs">9</tspan></text>
<text class="lg" y="1225" font-size="26"><tspan x="712.3" textLength="10.9" lengthAdjust="spacingAndGlyphs">4</tspan><tspan x="724.6" textLength="10.9" lengthAdjust="spacingAndGlyphs">1</tspan><tspan x="736.1">.</tspan><tspan x="749.2" textLength="10.9" lengthAdjust="spacingAndGlyphs">3</tspan></text>
<text class="lg" y="1225" font-size="26"><tspan x="790" textLength="10.9" lengthAdjust="spacingAndGlyphs">4</tspan><tspan x="802.3" textLength="10.9" lengthAdjust="spacingAndGlyphs">1</tspan><tspan x="813.8">.</tspan><tspan x="826.9" textLength="10.9" lengthAdjust="spacingAndGlyphs">7</tspan></text>
<text class="lg" y="1225" font-size="26"><tspan x="867.7" textLength="10.9" lengthAdjust="spacingAndGlyphs">4</tspan><tspan x="880" textLength="10.9" lengthAdjust="spacingAndGlyphs">2</tspan><tspan x="891.5">.</tspan><tspan x="904.6" textLength="10.9" lengthAdjust="spacingAndGlyphs">1</tspan></text>
<text class="lg" y="1225" font-size="26"><tspan x="945.4" textLength="10.9" lengthAdjust="spacingAndGlyphs">4</tspan><tspan x="957.7" textLength="10.9" lengthAdjust="spacingAndGlyphs">2</tspan><tspan x="969.2">.</tspan><tspan x="982.3" textLength="10.9" lengthAdjust="spacingAndGlyphs">5</tspan></text>
</svg>
</body></html>
